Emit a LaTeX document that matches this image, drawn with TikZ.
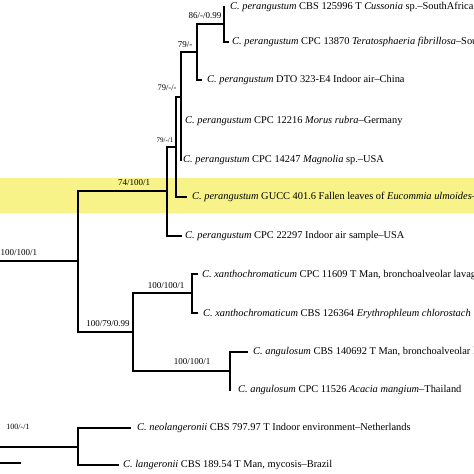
\documentclass[tikz,border=0pt]{standalone}
\usepackage{fontspec}
\setmainfont{Liberation Serif}
\definecolor{hlyellow}{RGB}{247,243,136}
\begin{document}
\begin{tikzpicture}[x=1pt,y=-1pt,
  br/.style={line width=1.2pt, line cap=rect, line join=miter},
  tiptext/.style={anchor=mid west, inner sep=0pt, font=\fontsize{10.4}{12}\selectfont},
  lab/.style={inner sep=0pt, font=\fontsize{9}{10}\selectfont}]
\useasboundingbox (0,0) rectangle (474,474);
\clip (0,0) rectangle (474,474);
\fill[hlyellow] (0,178) rectangle (474,213);
% internal nodes
\coordinate (nA) at (224,24);
\coordinate (nB) at (197,52);
\coordinate (nC) at (181,97);
\coordinate (nD) at (176,147);
\coordinate (nE) at (167,191);
\coordinate (nR) at (78,261);
\coordinate (nF) at (133,332);
\coordinate (nG) at (192,293);
\coordinate (nH) at (230,371);
\coordinate (nL) at (78,447);
\coordinate (r0) at (0,261);
\coordinate (l0) at (0,447);
\coordinate (s0) at (0,463);
\coordinate (s1) at (20,463);
% tips
\coordinate (t1) at (224,7);
\coordinate (t2) at (228,42);
\coordinate (t3) at (201,80);
\coordinate (t4) at (181,121);
\coordinate (t5) at (181,160);
\coordinate (t6) at (186,197);
\coordinate (t7) at (181,236);
\coordinate (t8) at (197,274);
\coordinate (t9) at (197,313);
\coordinate (t10) at (247,352);
\coordinate (t11) at (230,390);
\coordinate (t12) at (130,428);
\coordinate (t13) at (118,465);
% branches
\draw[br] (t1) -| (nA);
\draw[br] (t2) -| (nA);
\draw[br] (nA) -| (nB);
\draw[br] (t3) -| (nB);
\draw[br] (nB) -| (nC);
\draw[br] (t4) -| (nC);
\draw[br] (t5) -| (nC);
\draw[br] (nC) -| (nD);
\draw[br] (t6) -| (nD);
\draw[br] (nD) -| (nE);
\draw[br] (t7) -| (nE);
\draw[br] (nE) -| (nR);
\draw[br] (nF) -| (nR);
\draw[br] (r0) -- (nR);
\draw[br] (nG) -| (nF);
\draw[br] (nH) -| (nF);
\draw[br] (t8) -| (nG);
\draw[br] (t9) -| (nG);
\draw[br] (t10) -| (nH);
\draw[br] (t11) -| (nH);
\draw[br] (t12) -| (nL);
\draw[br] (t13) -| (nL);
\draw[br] (l0) -- (nL);
\draw[br] (s0) -- (s1);
% support labels
\node[lab] (lA) at (205,16) {86/-/0.99};
\node[lab] (lB) at (185,45) {79/-};
\node[lab, font=\fontsize{8.5}{10}\selectfont] (lC) at (167,88) {79/-/-};
\node[lab, font=\fontsize{7}{8}\selectfont] (lD) at (165,140) {79/-/1};
\node[lab] (lE) at (134,183) {74/100/1};
\node[lab, anchor=west] (lR) at (0.5,253) {100/100/1};
\node[lab] (lF) at (108,324) {100/79/0.99};
\node[lab] (lG) at (166,286) {100/100/1};
\node[lab] (lH) at (192,362) {100/100/1};
\node[lab, font=\fontsize{8}{9}\selectfont] (lL) at (18,427) {100/-/1};
% tip labels
\node[tiptext] (x1) at (230,7) {\textit{C. perangustum} CBS 125996 T \textit{Cussonia} sp.–SouthAfrica};
\node[tiptext] (x2) at (232,42) {\textit{C. perangustum} CPC 13870 \textit{Teratosphaeria fibrillosa}–Sou};
\node[tiptext] (x3) at (207,80) {\textit{C. perangustum} DTO 323-E4 Indoor air–China};
\node[tiptext] (x4) at (185,121) {\textit{C. perangustum} CPC 12216 \textit{Morus rubra}–Germany};
\node[tiptext] (x5) at (183,160) {\textit{C. perangustum} CPC 14247 \textit{Magnolia} sp.–USA};
\node[tiptext] (x6) at (192,197) {\textit{C. perangustum} GUCC 401.6 Fallen leaves of \textit{Eucommia ulmoides}–C};
\node[tiptext] (x7) at (185,236) {\textit{C. perangustum} CPC 22297 Indoor air sample–USA};
\node[tiptext] (x8) at (202,275) {\textit{C. xanthochromaticum} CPC 11609 T Man, bronchoalveolar lavag};
\node[tiptext] (x9) at (203,314) {\textit{C. xanthochromaticum} CBS 126364 \textit{Erythrophleum chlorostach}};
\node[tiptext] (x10) at (253,352) {\textit{C. angulosum} CBS 140692 T Man, bronchoalveolar la};
\node[tiptext] (x11) at (238,390) {\textit{C. angulosum} CPC 11526 \textit{Acacia mangium}–Thailand};
\node[tiptext] (x12) at (137,428) {\textit{C. neolangeronii} CBS 797.97 T Indoor environment–Netherlands};
\node[tiptext] (x13) at (123,465) {\textit{C. langeronii} CBS 189.54 T Man, mycosis–Brazil};
\end{tikzpicture}
\end{document}
